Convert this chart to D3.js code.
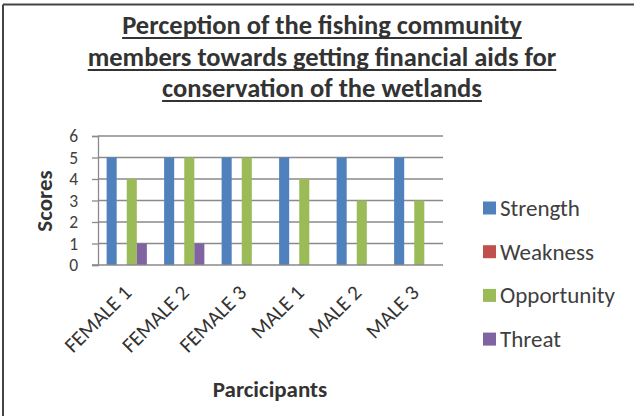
<!DOCTYPE html>
<html>
<head>
<meta charset="utf-8">
<script src="https://cdn.jsdelivr.net/npm/d3@7"></script>
<style>
  html, body { margin: 0; padding: 0; background: #fff; }
  svg { display: block; }
  text { font-family: Carlito, Calibri, "Open Sans", sans-serif; fill: #404040; }
</style>
</head>
<body>
<svg id="chart" width="634" height="416"></svg>
<script>
// Participants and their SWOT scores
const participants = ["FEMALE 1", "FEMALE 2", "FEMALE 3", "MALE 1", "MALE 2", "MALE 3"];
const seriesNames = ["Strength", "Weakness", "Opportunity", "Threat"];
const strength    = [5, 5, 5, 5, 5, 5];
const weakness    = [0, 0, 0, 0, 0, 0];
const opportunity = [4, 5, 5, 4, 3, 3];
const threat      = [1, 1, 0, 0, 0, 0];
const yTicks = [0, 1, 2, 3, 4, 5, 6];
const titleLines = [
  "Perception of the fishing community",
  "members towards getting financial aids for",
  "conservation of the wetlands"
];
const colors = ["#4F81BD", "#C0504D", "#9BBB59", "#8064A2"];

const seriesValues = [strength, weakness, opportunity, threat];
const rows = participants.map((p, i) => ({
  name: p,
  values: seriesNames.map((s, j) => ({ key: s, value: seriesValues[j][i] }))
}));

const svg = d3.select("#chart");
const W = 634, H = 416;

// frame (top and left edges)
svg.append("line").attr("x1", 3).attr("x2", W).attr("y1", 4.5).attr("y2", 4.5)
  .attr("stroke", "#444").attr("stroke-width", 2);
svg.append("line").attr("x1", 3).attr("x2", 3).attr("y1", 4.5).attr("y2", H)
  .attr("stroke", "#444").attr("stroke-width", 2);

const plot = { left: 98, right: 443, top: 136, bottom: 265 };

const x0 = d3.scaleBand().domain(participants)
  .range([plot.left, plot.right]).paddingInner(0.3).paddingOuter(0.15);
const x1 = d3.scaleBand().domain(seriesNames).range([0, x0.bandwidth()]);
const y = d3.scaleLinear().domain([0, 6]).range([plot.bottom, plot.top]);
const color = d3.scaleOrdinal().domain(seriesNames).range(colors);

// title, underlined
const title = svg.append("g").attr("class", "title");
const titleSize = 26.5;
const titleBase = [34, 66, 97];
titleLines.forEach((line, i) => {
  const t = title.append("text")
    .attr("x", 322).attr("y", titleBase[i])
    .attr("text-anchor", "middle")
    .attr("font-weight", "bold")
    .attr("font-size", titleSize)
    .style("fill", "#333")
    .text(line);
  const w = t.node().getComputedTextLength();
  title.append("line")
    .attr("x1", 322 - w / 2).attr("x2", 322 + w / 2)
    .attr("y1", titleBase[i] + 4).attr("y2", titleBase[i] + 4)
    .attr("stroke", "#333").attr("stroke-width", 1.8);
});

// gridlines
svg.append("g").selectAll("line").data(yTicks.filter(d => d > 0)).join("line")
  .attr("x1", plot.left).attr("x2", plot.right)
  .attr("y1", d => y(d)).attr("y2", d => y(d))
  .attr("stroke", "#8a8a8a").attr("stroke-width", 1.3);

// y axis
const yAxis = svg.append("g")
  .attr("transform", `translate(${plot.left},0)`)
  .call(d3.axisLeft(y).tickValues(yTicks).tickSize(6).tickPadding(14).tickFormat(d3.format("d")));
yAxis.select(".domain").attr("stroke", "#8a8a8a").attr("stroke-width", 1.3);
yAxis.selectAll(".tick line").attr("stroke", "#8a8a8a").attr("stroke-width", 1.3);
yAxis.selectAll(".tick text")
  .attr("font-size", 17.5).attr("font-family", null)
  .style("fill", "#404040");

// bars
svg.append("g").selectAll("g").data(rows).join("g")
  .attr("transform", d => `translate(${x0(d.name)},0)`)
  .selectAll("rect").data(d => d.values).join("rect")
  .attr("x", d => x1(d.key))
  .attr("width", x1.bandwidth())
  .attr("y", d => y(d.value))
  .attr("height", d => y(0) - y(d.value))
  .attr("fill", d => color(d.key));

// x axis baseline
svg.append("line")
  .attr("x1", plot.left - 6).attr("x2", plot.right)
  .attr("y1", y(0)).attr("y2", y(0))
  .attr("stroke", "#8a8a8a").attr("stroke-width", 1.5);

// category labels, rotated
svg.append("g").selectAll("text").data(participants).join("text")
  .attr("transform", d => `translate(${x0(d) + x0.bandwidth() / 2 + 6},294) rotate(-45)`)
  .attr("text-anchor", "end")
  .attr("font-size", 21)
  .style("fill", "#333")
  .text(d => d);

// axis titles
svg.append("text")
  .attr("transform", "translate(52,201) rotate(-90)")
  .attr("text-anchor", "middle")
  .attr("font-weight", "bold")
  .attr("font-size", 23)
  .style("fill", "#333")
  .text("Scores");

svg.append("text")
  .attr("x", 270).attr("y", 397)
  .attr("text-anchor", "middle")
  .attr("font-weight", "bold")
  .attr("font-size", 23)
  .style("fill", "#333")
  .text("Parcicipants");

// legend
const legend = svg.append("g").selectAll("g").data(seriesNames).join("g")
  .attr("transform", (d, i) => `translate(483,${208 + i * 43.7})`);
legend.append("rect")
  .attr("x", 0).attr("y", -6.5).attr("width", 13).attr("height", 13)
  .attr("fill", d => color(d));
legend.append("text")
  .attr("x", 17).attr("y", 8)
  .attr("font-size", 23)
  .style("fill", "#404040")
  .text(d => d);
</script>
</body>
</html>
